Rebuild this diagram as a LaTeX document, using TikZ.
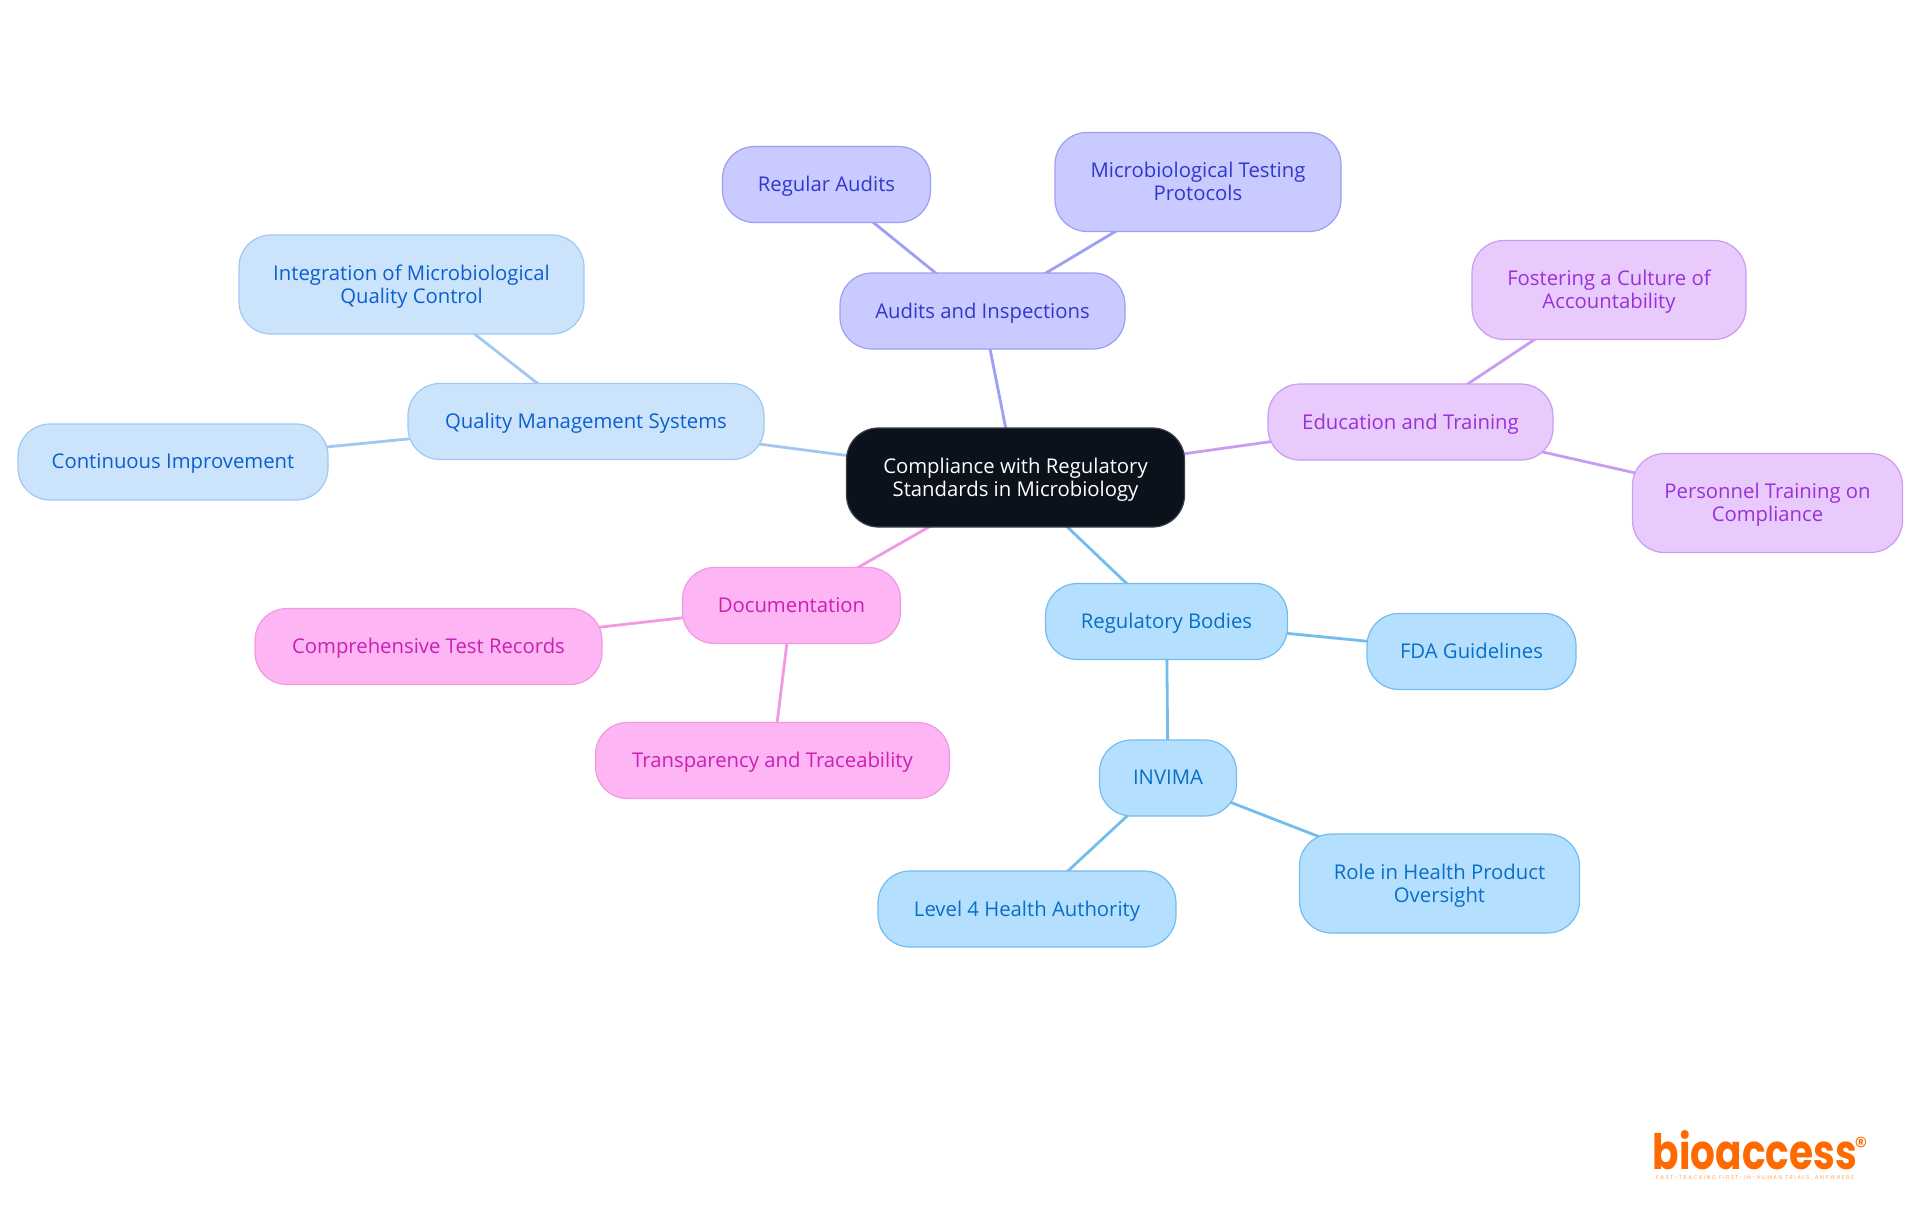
\documentclass[tikz,border=0pt]{standalone}
\usepackage{fontspec}
\usepackage{xcolor}
\usetikzlibrary{backgrounds}
\setmainfont{Open Sans}
\newfontfamily\logofont{Poppins}
\newfontfamily\tagfont[LetterSpace=26]{Poppins}
\definecolor{rootfill}{HTML}{0B121B}
\definecolor{rootline}{HTML}{3A3F46}
\definecolor{qfill}{HTML}{CCE3FC}
\definecolor{qline}{HTML}{A0C8F3}
\definecolor{qtext}{HTML}{0B5FCF}
\definecolor{afill}{HTML}{C9CAFF}
\definecolor{aline}{HTML}{9D9FF0}
\definecolor{atext}{HTML}{3038CC}
\definecolor{efill}{HTML}{E8CBFC}
\definecolor{eline}{HTML}{C99CF0}
\definecolor{etext}{HTML}{9A30D9}
\definecolor{dfill}{HTML}{FDB5F3}
\definecolor{dline}{HTML}{F199E3}
\definecolor{dtext}{HTML}{CC1FB4}
\definecolor{rfill}{HTML}{B4DFFF}
\definecolor{rline}{HTML}{73BCEE}
\definecolor{rtext}{HTML}{0B6EC5}
\definecolor{logoorange}{HTML}{FF6A00}

\begin{document}
\begin{tikzpicture}[x=1pt, y=-1pt,
    boxsize/.style 2 args={minimum width=#1, minimum height=#2},
    mapbox/.style={rounded corners=32pt, draw, line width=1.2pt, align=center, inner sep=0pt,
                   text depth=1pt, font=\fontsize{20.3}{23}\selectfont},
    rootbox/.style={mapbox, fill=rootfill, draw=rootline, text=white},
    qbox/.style={mapbox, fill=qfill, draw=qline, text=qtext},
    abox/.style={mapbox, fill=afill, draw=aline, text=atext},
    ebox/.style={mapbox, fill=efill, draw=eline, text=etext},
    dbox/.style={mapbox, fill=dfill, draw=dline, text=dtext},
    rbox/.style={mapbox, fill=rfill, draw=rline, text=rtext},
    link/.style={line width=2.8pt}]
  \useasboundingbox (0,0) rectangle (1920,1215);

  \node[rootbox,boxsize={338}{99}] (Root) at (1015.5,477.5) {Compliance with Regulatory\\Standards in Microbiology};

  \node[qbox,boxsize={356}{76}]  (Q1) at (586,421.5)   {Quality Management Systems};
  \node[qbox,boxsize={345}{99}]  (Q2) at (411.5,284.5) {Integration of Microbiological\\Quality Control};
  \node[qbox,boxsize={310}{76}]  (Q3) at (173,462)     {Continuous Improvement};

  \node[abox,boxsize={285}{76}]  (A1) at (982.5,311)   {Audits and Inspections};
  \node[abox,boxsize={208}{76}]  (A2) at (826.5,184.5) {Regular Audits};
  \node[abox,boxsize={286}{99}]  (A3) at (1198,182)    {Microbiological Testing\\Protocols};

  \node[ebox,boxsize={285}{76}]  (E1) at (1410.5,422)  {Education and Training};
  \node[ebox,boxsize={274}{99}]  (E2) at (1609,290)    {Fostering a Culture of\\Accountability};
  \node[ebox,boxsize={270}{99}]  (E3) at (1767.5,503)  {Personnel Training on\\Compliance};

  \node[dbox,boxsize={218}{76}]  (D1) at (791.5,605.5) {Documentation};
  \node[dbox,boxsize={347}{76}]  (D2) at (428.5,646.5) {Comprehensive Test Records};
  \node[dbox,boxsize={354}{76}]  (D3) at (772.5,760.5) {Transparency and Traceability};

  \node[rbox,boxsize={242}{76}]  (B1) at (1166.5,621.5) {Regulatory Bodies};
  \node[rbox,boxsize={209}{76}]  (B2) at (1471.5,651.5) {FDA Guidelines};
  \node[rbox,boxsize={137}{76}]  (B3) at (1168,778)     {INVIMA};
  \node[rbox,boxsize={298}{76}]  (B4) at (1027,909)     {Level 4 Health Authority};
  \node[rbox,boxsize={280}{99}]  (B5) at (1439.5,883.5) {Role in Health Product\\Oversight};

  \begin{scope}[on background layer]
    \path[link] (Root.center) edge [draw=qline] (Q1.center)
                              edge [draw=aline] (A1.center)
                              edge [draw=eline] (E1.center)
                              edge [draw=dline] (D1.center)
                              edge [draw=rline] (B1.center);
    \path[link,draw=qline] (Q1.center) edge (Q2.center)
                           (Q1.center) edge (Q3.center);
    \path[link,draw=aline] (A1.center) edge (A2.center)
                           (A1.center) edge (A3.center);
    \path[link,draw=eline] (E1.center) edge (E2.center)
                           (E1.center) edge (E3.center);
    \path[link,draw=dline] (D1.center) edge (D2.center)
                           (D1.center) edge (D3.center);
    \path[link,draw=rline] (B1.center) edge (B2.center)
                           (B1.center) edge (B3.center)
                           (B3.center) edge (B4.center)
                           (B3.center) edge (B5.center);
  \end{scope}

  % logo
  \node[text=logoorange, inner sep=0pt, text depth=0pt, anchor=base, yscale=1.25, transform shape,
        font=\logofont\bfseries\fontsize{39}{39}\selectfont] (Logo) at (1755,1169) {bioaccess};
  \node[text=logoorange, inner sep=0pt, font=\logofont\fontsize{26}{26}\selectfont] (Reg) at (1861,1146) {®};
  \node[text=logoorange!60, inner sep=0pt, font=\tagfont\fontsize{5.5}{5.5}\selectfont] (Tag) at (1755,1177.5) {FAST-TRACKING FIRST-IN-HUMAN TRIALS, ANYWHERE};
\end{tikzpicture}
\end{document}
